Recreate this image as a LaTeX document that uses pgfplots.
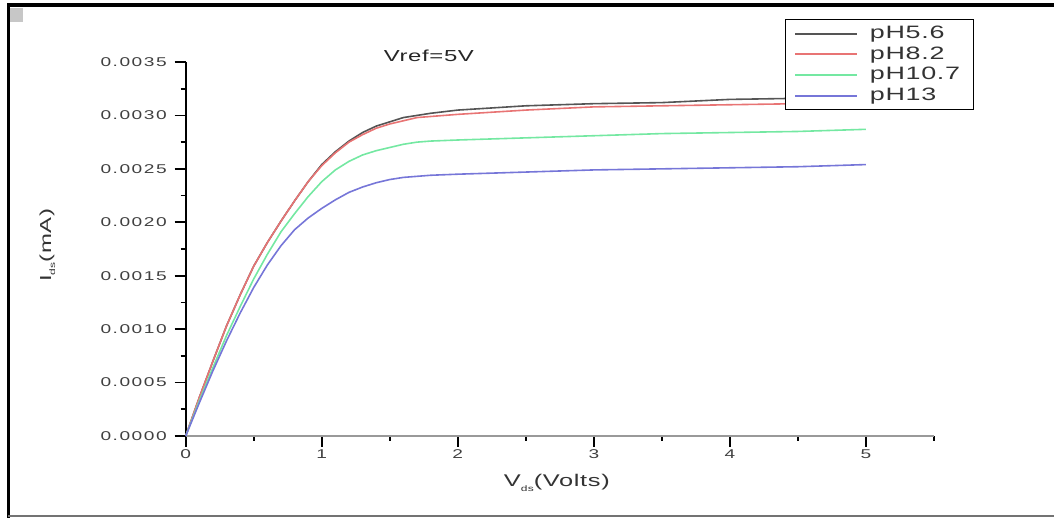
\documentclass[border=0pt]{standalone}
\usepackage{fontspec}
\setmainfont{Liberation Sans}
\newfontfamily\tickf{Liberation Sans}[FakeStretch=1.5, LetterSpace=12]
\newfontfamily\labf{Liberation Sans}[FakeStretch=1.5, LetterSpace=4]
\usepackage{pgfplots}
\pgfplotsset{compat=1.18}
\definecolor{cfive}{HTML}{555555}
\definecolor{ceight}{HTML}{E87474}
\definecolor{cten}{HTML}{74E8A2}
\definecolor{cthirteen}{HTML}{7676D8}
\begin{document}
\begin{tikzpicture}
\path[use as bounding box] (0,0) rectangle (527bp,259bp);
% frame of the scanned figure
\fill[black!22] (5bp,248bp) rectangle (11.5bp,255bp);
\draw[black,line width=2bp] (3.5bp,256.5bp) -- (527bp,256.5bp);
\draw[black,line width=1.5bp] (4.25bp,0) -- (4.25bp,257.5bp);
\draw[black!55,line width=1bp] (4bp,1bp) -- (527bp,1bp);
\begin{axis}[
  at={(92.85bp,41bp)}, anchor=south west,
  scale only axis, width=374.15bp, height=187bp,
  xmin=0, xmax=5.5, ymin=0, ymax=0.0035,
  axis x line=bottom, axis y line=left,
  axis line style={-},
  x axis line style={black!40,line width=1.4bp},
  y axis line style={black,line width=0.9bp},
  xtick={0,1,2,3,4,5}, minor xtick={0.5,1.5,2.5,3.5,4.5,5.5},
  ytick={0,0.0005,0.001,0.0015,0.002,0.0025,0.003,0.0035},
  minor ytick={0.00025,0.00075,0.00125,0.00175,0.00225,0.00275,0.00325},
  tick align=outside, major tick length=5.5bp, minor tick length=2.5bp,
  tick style={black,line width=0.8bp},
  scaled y ticks=false,
  yticklabel style={/pgf/number format/fixed, /pgf/number format/fixed zerofill,
    /pgf/number format/precision=4, /pgf/number format/assume math mode=true, xshift=-0.5bp},
  xticklabel style={/pgf/number format/assume math mode=true, yshift=2bp},
  ticklabel style={font=\tickf\fontsize{6.4}{7}\selectfont, text=black!75},
  xlabel={V\raisebox{-2.2bp}{\fontsize{4}{4}\selectfont ds}(Volts)},
  xlabel style={font=\labf\fontsize{8.5}{9}\selectfont, text=black!80, at={(axis description cs:0.496,-0.136)}, anchor=base},
  ylabel={I\raisebox{-2bp}{\fontsize{4}{4}\selectfont ds}(mA)},
  ylabel style={font=\labf\fontsize{8}{9}\selectfont, text=black!80, at={(axis description cs:-0.185,0.51)}, anchor=center},
  legend cell align=left,
  legend image code/.code={\draw[#1, line width=0.9bp] (0bp,0bp) -- (31bp,0bp); \path (35bp,0bp);},
  legend style={at={(axis description cs:1.053,1.115)}, anchor=north east,
    draw=black, line width=0.5bp, font=\labf\fontsize{9}{10}\selectfont, text=black!80,
    inner xsep=4.5bp, inner ysep=1.2bp, row sep=-1.4bp},
  clip=false,
]
\addplot[cfive, line width=0.8bp] coordinates {
(0,0) (0.1,0.00036) (0.2,0.00070) (0.3,0.00103) (0.4,0.00132) (0.5,0.00159)
(0.6,0.00181) (0.7,0.00201) (0.8,0.00220) (0.9,0.00238) (1.0,0.00254)
(1.1,0.00266) (1.2,0.00276) (1.3,0.00284) (1.4,0.00290) (1.5,0.00294)
(1.6,0.00298) (1.7,0.00300) (1.8,0.00302) (2.0,0.00305) (2.5,0.00309)
(3.0,0.00311) (3.5,0.00312) (4.0,0.00315) (4.5,0.00316) (5.0,0.00317)};
\addlegendentry{pH5.6}
\addplot[ceight, line width=0.8bp] coordinates {
(0,0) (0.1,0.00036) (0.2,0.00070) (0.3,0.00103) (0.4,0.00132) (0.5,0.00159)
(0.6,0.00181) (0.7,0.00201) (0.8,0.00220) (0.9,0.00238) (1.0,0.00253)
(1.1,0.00265) (1.2,0.00275) (1.3,0.00282) (1.4,0.00288) (1.5,0.00292)
(1.6,0.00295) (1.7,0.00298) (1.8,0.00299) (2.0,0.00301) (2.5,0.00305)
(3.0,0.00308) (3.5,0.00309) (4.0,0.00310) (4.5,0.00311) (5.0,0.00312)};
\addlegendentry{pH8.2}
\addplot[cten, line width=0.8bp] coordinates {
(0,0) (0.1,0.00033) (0.2,0.00064) (0.3,0.00094) (0.4,0.00121) (0.5,0.00147)
(0.6,0.00170) (0.7,0.00191) (0.8,0.00208) (0.9,0.00224) (1.0,0.00238)
(1.1,0.00249) (1.2,0.00257) (1.3,0.00263) (1.4,0.00267) (1.5,0.00270)
(1.6,0.00273) (1.7,0.00275) (1.8,0.00276) (2.0,0.00277) (2.5,0.00279)
(3.0,0.00281) (3.5,0.00283) (4.0,0.00284) (4.5,0.00285) (5.0,0.00287)};
\addlegendentry{pH10.7}
\addplot[cthirteen, line width=0.8bp] coordinates {
(0,0) (0.1,0.00031) (0.2,0.00061) (0.3,0.00089) (0.4,0.00115) (0.5,0.00139)
(0.6,0.00160) (0.7,0.00178) (0.8,0.00193) (0.9,0.00204) (1.0,0.00213)
(1.1,0.00221) (1.2,0.00228) (1.3,0.00233) (1.4,0.00237) (1.5,0.00240)
(1.6,0.00242) (1.7,0.00243) (1.8,0.00244) (2.0,0.00245) (2.5,0.00247)
(3.0,0.00249) (3.5,0.00250) (4.0,0.00251) (4.5,0.00252) (5.0,0.00254)};
\addlegendentry{pH13}
\node[font=\labf\fontsize{8}{9}\selectfont, text=black!85, anchor=center]
  at (axis description cs:0.325,1.016) {Vref=5V};
\end{axis}
\end{tikzpicture}
\end{document}
